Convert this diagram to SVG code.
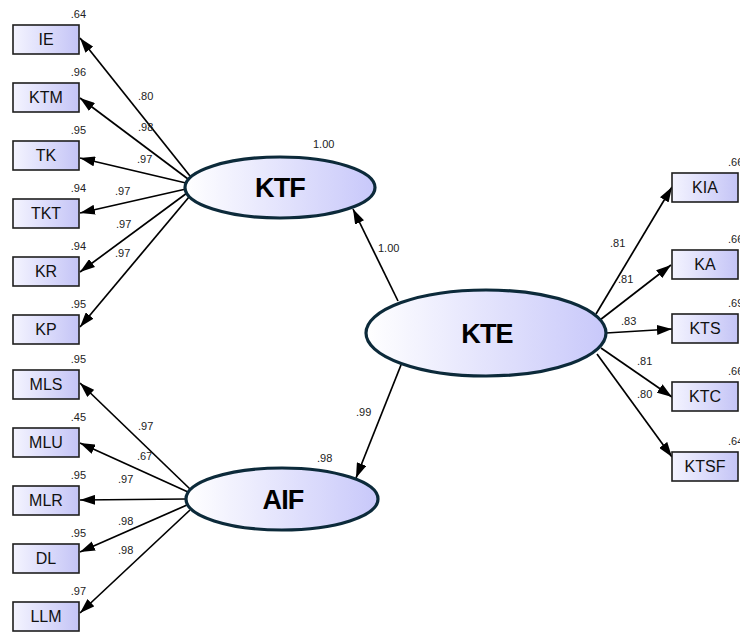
<svg xmlns="http://www.w3.org/2000/svg" width="740" height="635" viewBox="0 0 740 635">
  <defs>
    <linearGradient id="boxFill" x1="0" y1="0" x2="1" y2="0">
      <stop offset="0" stop-color="#f4f4ff"/>
      <stop offset="1" stop-color="#c4c4f6"/>
    </linearGradient>
    <linearGradient id="latentFill" x1="0" y1="0" x2="1" y2="0">
      <stop offset="0" stop-color="#ffffff"/>
      <stop offset="1" stop-color="#c8c8fa"/>
    </linearGradient>
    <marker id="arrow" markerUnits="userSpaceOnUse" markerWidth="15" markerHeight="10" refX="15" refY="5" orient="auto">
      <path d="M0,0 L15,5 L0,10 z" fill="#000"/>
    </marker>
    <style>
      .obs rect { fill: url(#boxFill); stroke: #1e1e1e; stroke-width: 1.6; }
      .obs text { font-family: "Liberation Sans", Arial, sans-serif; font-size: 16px; fill: #111; text-anchor: middle; }
      .lat ellipse { fill: url(#latentFill); stroke: #0c2a3a; stroke-width: 3.2; }
      .lat text { font-family: "Liberation Sans", Arial, sans-serif; font-size: 27px; font-weight: bold; fill: #000; text-anchor: middle; letter-spacing: -0.8px; }
      .val { font-family: "Liberation Sans", Arial, sans-serif; font-size: 11px; fill: #222; }
      .r2 { text-anchor: end; }
      #connectors line { stroke: #000; stroke-width: 1.7; marker-end: url(#arrow); }
    </style>
  </defs>

  <rect width="740" height="635" fill="#fff"/>

  <!-- paths -->
  <g id="connectors">
    <!-- KTF indicators -->
    <line x1="190" y1="176" x2="80" y2="38"/>
    <line x1="188" y1="179" x2="80" y2="98"/>
    <line x1="186" y1="183" x2="80" y2="158"/>
    <line x1="186" y1="189" x2="80" y2="213"/>
    <line x1="187" y1="193" x2="80" y2="272"/>
    <line x1="189" y1="197" x2="80" y2="327"/>
    <!-- AIF indicators -->
    <line x1="190" y1="489" x2="80" y2="383"/>
    <line x1="188" y1="492" x2="80" y2="443"/>
    <line x1="186" y1="499" x2="80" y2="500"/>
    <line x1="187" y1="505" x2="80" y2="552"/>
    <line x1="190" y1="510" x2="80" y2="613"/>
    <!-- KTE indicators -->
    <line x1="596" y1="314" x2="672" y2="187"/>
    <line x1="600" y1="320" x2="671" y2="265"/>
    <line x1="606" y1="333" x2="672" y2="329"/>
    <line x1="601" y1="348" x2="672" y2="397"/>
    <line x1="597" y1="354" x2="672" y2="457"/>
    <!-- structural paths -->
    <line x1="398" y1="301" x2="353" y2="209"/>
    <line x1="401" y1="365" x2="356" y2="478"/>
  </g>

  <!-- observed variables, left -->
  <g id="IE" class="obs"><rect x="13" y="25" width="66" height="29"/><text x="46" y="45">IE</text></g>
  <g id="KTM" class="obs"><rect x="13" y="83" width="66" height="29"/><text x="46" y="103">KTM</text></g>
  <g id="TK" class="obs"><rect x="13" y="141" width="66" height="29"/><text x="46" y="161">TK</text></g>
  <g id="TKT" class="obs"><rect x="13" y="199" width="66" height="29"/><text x="46" y="219">TKT</text></g>
  <g id="KR" class="obs"><rect x="13" y="257" width="66" height="29"/><text x="46" y="277">KR</text></g>
  <g id="KP" class="obs"><rect x="13" y="315" width="66" height="29"/><text x="46" y="335">KP</text></g>
  <g id="MLS" class="obs"><rect x="13" y="370" width="66" height="29"/><text x="46" y="390">MLS</text></g>
  <g id="MLU" class="obs"><rect x="13" y="428" width="66" height="29"/><text x="46" y="448">MLU</text></g>
  <g id="MLR" class="obs"><rect x="13" y="486" width="66" height="29"/><text x="46" y="506">MLR</text></g>
  <g id="DL" class="obs"><rect x="13" y="544" width="66" height="29"/><text x="46" y="564">DL</text></g>
  <g id="LLM" class="obs"><rect x="13" y="602" width="66" height="29"/><text x="46" y="622">LLM</text></g>

  <!-- observed variables, right -->
  <g id="KIA" class="obs"><rect x="672" y="173" width="66" height="29"/><text x="705" y="193">KIA</text></g>
  <g id="KA" class="obs"><rect x="672" y="250" width="66" height="29"/><text x="705" y="270">KA</text></g>
  <g id="KTS" class="obs"><rect x="672" y="314" width="66" height="29"/><text x="705" y="334">KTS</text></g>
  <g id="KTC" class="obs"><rect x="672" y="382" width="66" height="29"/><text x="705" y="402">KTC</text></g>
  <g id="KTSF" class="obs"><rect x="672" y="452" width="66" height="29"/><text x="705" y="472">KTSF</text></g>

  <!-- latent variables -->
  <g id="KTF" class="lat"><ellipse cx="280" cy="187.5" rx="95" ry="30.5"/><text x="280" y="197">KTF</text></g>
  <g id="KTE" class="lat"><ellipse cx="486" cy="333" rx="120" ry="43"/><text x="487" y="343">KTE</text></g>
  <g id="AIF" class="lat"><ellipse cx="282" cy="499" rx="96" ry="31"/><text x="283" y="509">AIF</text></g>

  <!-- squared multiple correlations -->
  <g id="r2-values" class="val">
    <text class="r2" x="86" y="18">.64</text>
    <text class="r2" x="86" y="76">.96</text>
    <text class="r2" x="86" y="134">.95</text>
    <text class="r2" x="86" y="192">.94</text>
    <text class="r2" x="86" y="250">.94</text>
    <text class="r2" x="86" y="308">.95</text>
    <text class="r2" x="86" y="363">.95</text>
    <text class="r2" x="86" y="421">.45</text>
    <text class="r2" x="86" y="479">.95</text>
    <text class="r2" x="86" y="537">.95</text>
    <text class="r2" x="86" y="595">.97</text>
    <text x="728" y="166">.66</text>
    <text x="728" y="243">.66</text>
    <text x="728" y="307">.69</text>
    <text x="728" y="375">.66</text>
    <text x="728" y="445">.64</text>
    <text x="313" y="148">1.00</text>
    <text x="317" y="462">.98</text>
  </g>

  <!-- standardized loadings -->
  <g id="loadings" class="val">
    <text x="138" y="100">.80</text>
    <text x="138" y="131">.98</text>
    <text x="137" y="163">.97</text>
    <text x="115" y="195">.97</text>
    <text x="116" y="228">.97</text>
    <text x="115" y="257">.97</text>
    <text x="138" y="430">.97</text>
    <text x="137" y="460">.67</text>
    <text x="118" y="483">.97</text>
    <text x="118" y="525">.98</text>
    <text x="118" y="554">.98</text>
    <text x="610" y="247">.81</text>
    <text x="618" y="283">.81</text>
    <text x="621" y="325">.83</text>
    <text x="637" y="365">.81</text>
    <text x="637" y="398">.80</text>
    <text x="378" y="252">1.00</text>
    <text x="356" y="416">.99</text>
  </g>
</svg>
